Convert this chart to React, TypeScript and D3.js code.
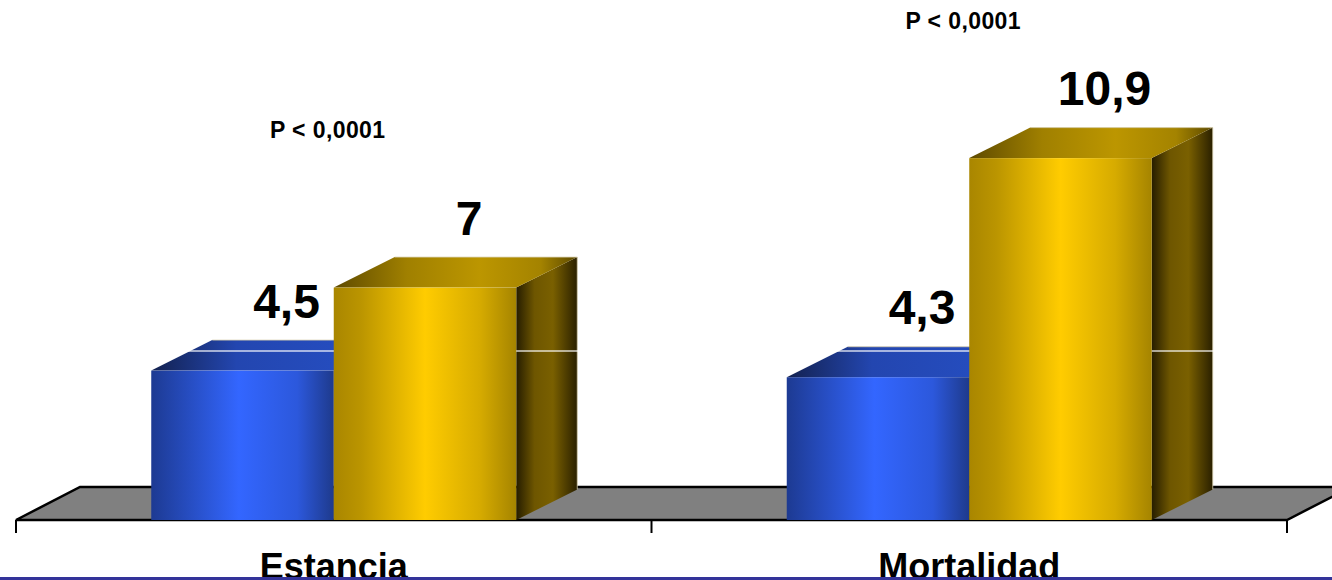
import React from "react";
import * as d3 from "d3";

const CATEGORIES = ["Estancia", "Mortalidad"];
const SERIES = ["Grupo 1", "Grupo 2"];
const SERIES_1_VALUES = [4.5, 4.3];
const SERIES_2_VALUES = [7, 10.9];
const SERIES_1_LABELS = ["4,5", "4,3"];
const SERIES_2_LABELS = ["7", "10,9"];
const P_LABELS = ["P < 0,0001", "P < 0,0001"];
const P_LABEL_LEVELS = [11.5, 14.8];
const GRID_VALUES = [4.1];

const W = 1332;
const H = 580;
const FONT = "'Liberation Sans', Arial, Helvetica, sans-serif";

export default function App() {
  const floorFrontY = 520;
  const floorDx = 64;
  const floorDy = 33;
  const barDx = 61;
  const barDy = 30.5;
  const xLeft = 16;
  const xRight = 1287;

  const y = d3.scaleLinear().domain([0, 12]).range([floorFrontY, floorFrontY - 12 * 33.2]);
  const yBack = d3.scaleLinear().domain([0, 12]).range([floorFrontY - floorDy, floorFrontY - floorDy - 12 * 33.2]);
  const x = d3.scaleBand<string>().domain(CATEGORIES).range([xLeft, xRight]).paddingInner(0).paddingOuter(0);
  const groupW = 365;
  const xInner = d3.scaleBand<string>().domain(SERIES).range([0, groupW]).padding(0);

  const seriesValues = [SERIES_1_VALUES, SERIES_2_VALUES];
  const seriesLabels = [SERIES_1_LABELS, SERIES_2_LABELS];
  const seriesIds = ["blue", "gold"];

  type Bar = { x0: number; x1: number; yTop: number; y0: number; color: string; label: string };
  const bars: Bar[] = [];
  CATEGORIES.forEach((c, ci) => {
    const cx = (x(c) as number) + x.bandwidth() / 2;
    const gx = cx - groupW / 2;
    SERIES.forEach((s, si) => {
      const x0 = gx + (xInner(s) as number);
      bars.push({
        x0,
        x1: x0 + xInner.bandwidth(),
        yTop: y(seriesValues[si][ci]),
        y0: y(0),
        color: seriesIds[si],
        label: seriesLabels[si][ci],
      });
    });
  });

  const pts = (arr: [number, number][]) => arr.map((p) => p.join(",")).join(" ");

  const floorPoly: [number, number][] = [
    [xLeft, floorFrontY],
    [xLeft + floorDx, floorFrontY - floorDy],
    [xRight + floorDx, floorFrontY - floorDy],
    [xRight, floorFrontY],
  ];

  const tickXs = [xLeft, ...CATEGORIES.map((c) => (x(c) as number) + x.bandwidth())];

  return (
    <svg
      width={W}
      height={H}
      style={{ position: "absolute", left: 0, top: 0, background: "#fff" }}
      fontFamily={FONT}
    >
      <defs>
        <linearGradient id="blue-front" x1="0" x2="1" y1="0" y2="0">
          <stop offset="0" stopColor="#1d3a92" />
          <stop offset="0.48" stopColor="#3366ff" />
          <stop offset="0.8" stopColor="#2c58dc" />
          <stop offset="1" stopColor="#1e3a8c" />
        </linearGradient>
        <linearGradient id="blue-top" x1="0" x2="1" y1="0" y2="0">
          <stop offset="0" stopColor="#13214f" />
          <stop offset="0.35" stopColor="#2346b0" />
          <stop offset="1" stopColor="#2650c6" />
        </linearGradient>
        <linearGradient id="blue-side" x1="0" x2="1" y1="0" y2="0">
          <stop offset="0" stopColor="#0d1638" />
          <stop offset="0.5" stopColor="#1a2f78" />
          <stop offset="1" stopColor="#0d1638" />
        </linearGradient>
        <linearGradient id="gold-front" x1="0" x2="1" y1="0" y2="0">
          <stop offset="0" stopColor="#a98600" />
          <stop offset="0.15" stopColor="#bb9500" />
          <stop offset="0.5" stopColor="#ffcc00" />
          <stop offset="0.8" stopColor="#d6ab00" />
          <stop offset="1" stopColor="#a58400" />
        </linearGradient>
        <linearGradient id="gold-top" x1="0" x2="1" y1="0" y2="0">
          <stop offset="0" stopColor="#5e4a00" />
          <stop offset="0.3" stopColor="#a08000" />
          <stop offset="0.6" stopColor="#bc9600" />
          <stop offset="0.85" stopColor="#a48300" />
          <stop offset="1" stopColor="#5c4900" />
        </linearGradient>
        <linearGradient id="gold-side" x1="0" x2="1" y1="0" y2="0">
          <stop offset="0" stopColor="#261d00" />
          <stop offset="0.3" stopColor="#6e5600" />
          <stop offset="0.6" stopColor="#7a6000" />
          <stop offset="1" stopColor="#2a2000" />
        </linearGradient>
      </defs>

      {/* floor */}
      <polygon points={pts(floorPoly)} fill="#808080" stroke="#000" strokeWidth={2.5} strokeLinejoin="miter" />
      {tickXs.map((tx, i) => (
        <line key={i} x1={tx} x2={tx} y1={floorFrontY} y2={floorFrontY + 13} stroke="#000" strokeWidth={2} />
      ))}

      {/* tops & sides */}
      {bars.map((b, i) => (
        <g key={"ts" + i}>
          <polygon
            points={pts([
              [b.x1, b.yTop],
              [b.x1 + barDx, b.yTop - barDy],
              [b.x1 + barDx, b.y0 - barDy],
              [b.x1, b.y0],
            ])}
            fill={`url(#${b.color}-side)`}
          />
          <polygon
            points={pts([
              [b.x0, b.yTop],
              [b.x0 + barDx, b.yTop - barDy],
              [b.x1 + barDx, b.yTop - barDy],
              [b.x1, b.yTop],
            ])}
            fill={`url(#${b.color}-top)`}
          />
          <polyline
            points={pts([
              [b.x0 + barDx, b.yTop - barDy],
              [b.x1 + barDx, b.yTop - barDy],
              [b.x1 + barDx, b.y0 - barDy],
            ])}
            fill="none"
            stroke="#d4ccaa"
            strokeWidth={1}
            opacity={0.8}
          />
        </g>
      ))}

      {/* gridline */}
      {GRID_VALUES.map((g, i) => (
        <line
          key={"g" + i}
          x1={xLeft + floorDx}
          x2={W}
          y1={yBack(g)}
          y2={yBack(g)}
          stroke="#ffffff"
          strokeOpacity={0.8}
          strokeWidth={1.5}
        />
      ))}

      {/* fronts */}
      {bars.map((b, i) => (
        <rect key={"f" + i} x={b.x0} y={b.yTop} width={b.x1 - b.x0} height={b.y0 - b.yTop} fill={`url(#${b.color}-front)`} />
      ))}

      {/* value labels */}
      {bars.map((b, i) => (
        <text
          key={"l" + i}
          x={(b.x0 + b.x1) / 2 + 44}
          y={b.yTop - 53}
          textAnchor="middle"
          fontSize={48}
          fontWeight="bold"
          fill="#000"
        >
          {b.label}
        </text>
      ))}

      {/* p labels */}
      {CATEGORIES.map((c, i) => (
        <text
          key={"p" + i}
          x={(x(c) as number) + x.bandwidth() / 2 - 6}
          y={y(P_LABEL_LEVELS[i])}
          textAnchor="middle"
          fontSize={23}
          fontWeight="bold"
          letterSpacing={0.4}
          fill="#000"
        >
          {P_LABELS[i]}
        </text>
      ))}

      {/* category labels */}
      {CATEGORIES.map((c) => (
        <text
          key={"c" + c}
          x={(x(c) as number) + x.bandwidth() / 2}
          y={579}
          textAnchor="middle"
          fontSize={36}
          fontWeight="bold"
          fill="#000"
        >
          {c}
        </text>
      ))}

      <rect x={0} y={577} width={W} height={3} fill="#333399" />
    </svg>
  );
}
